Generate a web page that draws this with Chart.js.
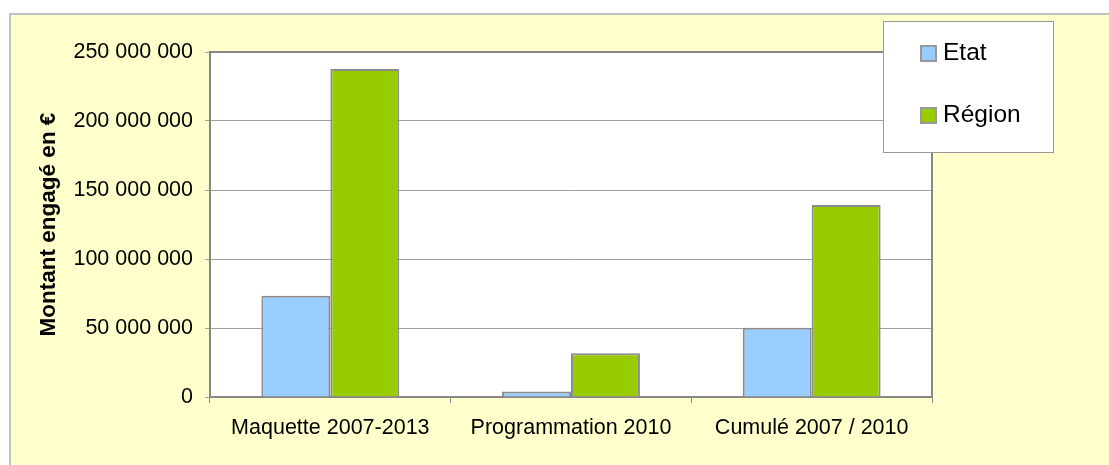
<!DOCTYPE html>
<html lang="fr">
<head>
<meta charset="UTF-8" />
<title>Montant engagé</title>
<script src="https://cdn.jsdelivr.net/npm/chart.js"></script>
<style>
  html, body { margin: 0; padding: 0; background: #ffffff; }
  .wrap { position: relative; width: 1109px; height: 465px; }
</style>
</head>
<body>
<div class="wrap">
  <canvas id="montantChart" width="1109" height="465"></canvas>
</div>
<script>
  // données
  const categories = ['Maquette 2007-2013', 'Programmation 2010', 'Cumulé 2007 / 2010'];
  const etatValues = [73400000, 3900000, 50200000];
  const regionValues = [237700000, 31700000, 139100000];
  const yTicks = [0, 50000000, 100000000, 150000000, 200000000, 250000000];

  const fontFamily = '"Liberation Sans", Arial, sans-serif';

  function fmt(v) {
    return String(Math.round(v)).replace(/\B(?=(\d{3})+(?!\d))/g, ' ');
  }

  // fond jaune avec bordure grise + cadre de la zone de tracé
  const backgroundPlugin = {
    id: 'background',
    beforeDraw(chart) {
      const c = chart.ctx;
      c.save();
      c.fillStyle = '#ffffff';
      c.fillRect(0, 0, chart.width, chart.height);
      c.fillStyle = '#ffffcc';
      c.fillRect(9, 14, chart.width, chart.height);
      c.strokeStyle = '#c0c0c0';
      c.lineWidth = 2;
      c.beginPath();
      c.moveTo(10, chart.height);
      c.lineTo(10, 14);
      c.lineTo(chart.width, 14);
      c.stroke();
      const a = chart.chartArea;
      c.fillStyle = '#ffffff';
      c.fillRect(a.left, a.top, a.right - a.left, a.bottom - a.top);
      c.restore();
    },
    afterDatasetsDraw(chart) {
      const c = chart.ctx;
      const a = chart.chartArea;
      c.save();
      c.strokeStyle = '#888888';
      c.lineWidth = 2;
      c.beginPath();
      c.moveTo(a.left, a.top);
      c.lineTo(a.right, a.top);
      c.lineTo(a.right, a.bottom);
      c.stroke();
      c.restore();
    }
  };

  // légende encadrée qui chevauche la zone de tracé
  const boxLegendPlugin = {
    id: 'boxLegend',
    afterDraw(chart) {
      const c = chart.ctx;
      c.save();
      c.fillStyle = '#ffffff';
      c.fillRect(883, 21, 170, 131);
      c.strokeStyle = '#999999';
      c.lineWidth = 1;
      c.strokeRect(883.5, 21.5, 170, 131);
      const rows = [53, 115];
      chart.data.datasets.forEach((ds, i) => {
        const y = rows[i];
        c.fillStyle = ds.backgroundColor;
        c.fillRect(920, y - 8, 17, 17);
        c.strokeStyle = '#999999';
        c.lineWidth = 2;
        c.strokeRect(921, y - 7, 15, 15);
        c.fillStyle = '#000000';
        c.font = '24.5px ' + fontFamily;
        c.textBaseline = 'middle';
        c.fillText(ds.label, 943, y);
      });
      c.restore();
    }
  };

  const ctx = document.getElementById('montantChart').getContext('2d');
  new Chart(ctx, {
    type: 'bar',
    data: {
      labels: categories,
      datasets: [
        {
          label: 'Etat',
          data: etatValues,
          backgroundColor: '#99ccff',
          borderColor: '#8c8c8c',
          borderWidth: 2,
          categoryPercentage: 0.573,
          barPercentage: 1.0
        },
        {
          label: 'Région',
          data: regionValues,
          backgroundColor: '#99cc00',
          borderColor: '#8c8c8c',
          borderWidth: 2,
          categoryPercentage: 0.573,
          barPercentage: 1.0
        }
      ]
    },
    options: {
      responsive: false,
      animation: false,
      layout: { padding: { left: 0, top: 52, right: 177, bottom: 0 } },
      plugins: {
        legend: { display: false },
        tooltip: { enabled: false }
      },
      scales: {
        x: {
          afterFit(scale) { scale.height = 68; },
          grid: {
            offset: true,
            drawOnChartArea: false,
            drawTicks: true,
            tickLength: 6,
            color: '#888888',
            lineWidth: 1
          },
          border: { color: '#888888', width: 2 },
          ticks: {
            color: '#000000',
            padding: 12,
            maxRotation: 0,
            font: { family: fontFamily, size: 21.5 }
          }
        },
        y: {
          min: 0,
          max: 250000000,
          afterFit(scale) { scale.width = 210; },
          afterBuildTicks(scale) {
            scale.ticks = yTicks.map(v => ({ value: v }));
          },
          grid: {
            color: '#a0a0a0',
            lineWidth: 1,
            drawTicks: true,
            tickLength: 5
          },
          border: { color: '#888888', width: 2 },
          ticks: {
            color: '#000000',
            padding: 12,
            font: { family: fontFamily, size: 21.5 },
            callback: v => fmt(v)
          },
          title: {
            display: true,
            text: 'Montant engagé en €',
            color: '#000000',
            padding: { top: 35, bottom: 0 },
            font: { family: fontFamily, size: 22.5, weight: 'bold' }
          }
        }
      }
    },
    plugins: [backgroundPlugin, boxLegendPlugin]
  });
</script>
</body>
</html>
